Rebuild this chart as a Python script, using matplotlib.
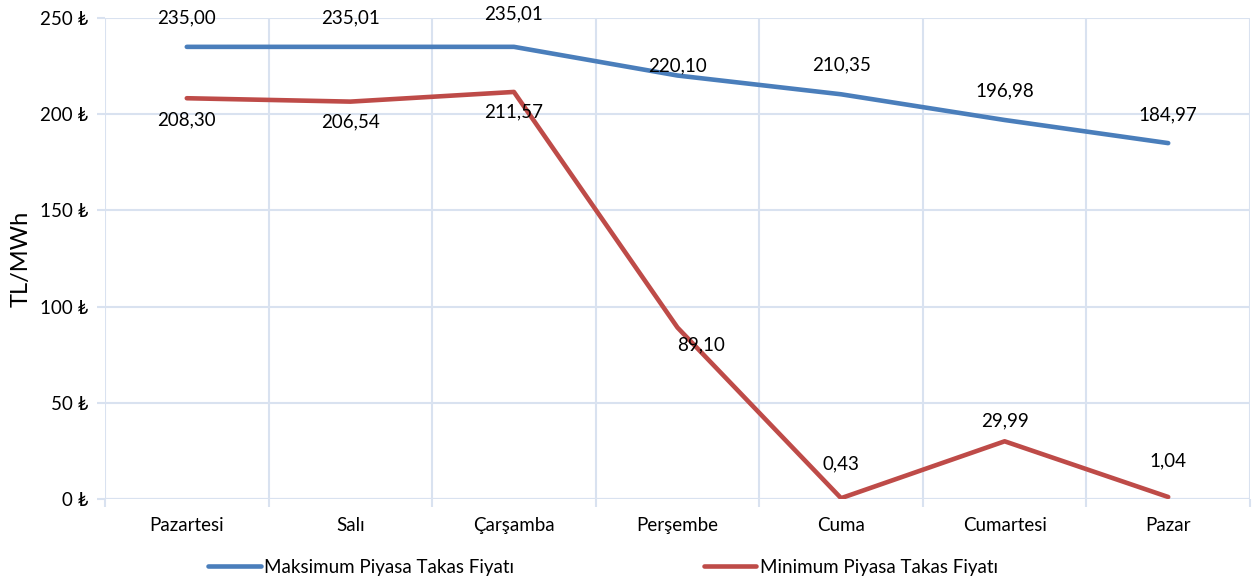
import numpy as np
import matplotlib
matplotlib.use("Agg")
import matplotlib.pyplot as plt

plt.rcParams['font.family'] = ['Lato', 'DejaVu Sans']

days = ["Pazartesi", "Salı", "Çarşamba", "Perşembe", "Cuma", "Cumartesi", "Pazar"]
max_price = [235.00, 235.01, 235.01, 220.10, 210.35, 196.98, 184.97]
min_price = [208.30, 206.54, 211.57, 89.10, 0.43, 29.99, 1.04]
y_ticks = [0, 50, 100, 150, 200, 250]

# label offsets in pixels (dx, dy)
max_off = [(0, 29), (0, 29), (0, 33), (0, 10), (0, 29), (0, 29), (0, 28)]
min_off = [(0, -22), (0, -20), (0, -20), (24, -17), (0, 34), (0, 20), (0, 36)]

fig = plt.figure(figsize=(12.58, 5.8), dpi=100)
ax = fig.add_axes([105 / 1258, 1 - 499 / 580, 1145 / 1258, 481 / 580])

x = np.arange(len(days))
blue = "#4a7ebb"
red = "#be4b48"
ax.plot(x, max_price, color=blue, lw=3.3, solid_capstyle="round", solid_joinstyle="round",
        label="Maksimum Piyasa Takas Fiyatı", zorder=3)
ax.plot(x, min_price, color=red, lw=3.3, solid_capstyle="round", solid_joinstyle="round",
        label="Minimum Piyasa Takas Fiyatı", zorder=3)

def fmt(v):
    return f"{v:.2f}".replace(".", ",")

fs = 13.5
px = 0.72
for i, v in enumerate(max_price):
    dx, dy = max_off[i]
    ax.annotate(fmt(v), (x[i], v), xytext=(dx * px, dy * px), textcoords="offset points",
                ha="center", va="center", fontsize=fs, color="black")
for i, v in enumerate(min_price):
    dx, dy = min_off[i]
    ax.annotate(fmt(v), (x[i], v), xytext=(dx * px, dy * px), textcoords="offset points",
                ha="center", va="center", fontsize=fs, color="black")

grid_c = "#d9e2f0"
ax.set_xlim(-0.5, len(days) - 0.5)
ax.set_ylim(0, 250)
ax.set_yticks(y_ticks)
ax.set_yticklabels([f"{t} ₺" for t in y_ticks], fontsize=fs)
ax.set_xticks(np.arange(-0.5, len(days), 1.0))
ax.set_xticklabels([])
ax.set_xticks(x, minor=True)
ax.set_xticklabels(days, minor=True, fontsize=fs)
ax.tick_params(axis="x", which="major", length=6, color=grid_c, width=1.5)
ax.tick_params(axis="x", which="minor", length=0, pad=13)
ax.tick_params(axis="y", length=6, color=grid_c, width=1.5, pad=6)
ax.grid(True, which="major", color=grid_c, lw=1.5, zorder=0)
for s in ax.spines.values():
    s.set_visible(False)
ax.axhline(0, color=grid_c, lw=1.5, zorder=1)
ax.set_ylabel("TL/MWh", fontsize=17, labelpad=6)

fig.legend(loc="center", bbox_to_anchor=(603 / 1258, 1 - 567 / 580), ncol=2, frameon=False,
           fontsize=fs, handlelength=2.8, handletextpad=0.2, columnspacing=10.1)

fig.savefig("out.png", dpi=100)
